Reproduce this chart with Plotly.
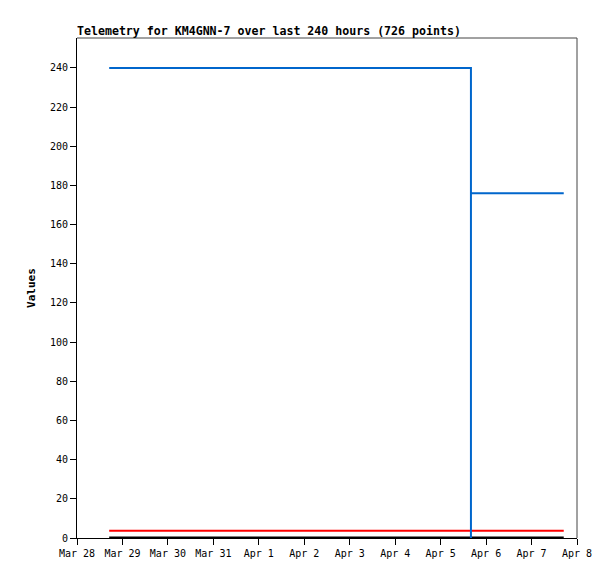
import plotly.graph_objects as go

# Data (key points)
blue_times = ["2025-03-28 17:00", "2025-04-05 16:00", "2025-04-05 16:00", "2025-04-05 16:00", "2025-04-07 17:00"]
blue_values = [240, 240, 0, 176, 176]
red_times = ["2025-03-28 17:00", "2025-04-07 17:00"]
red_values = [3.7, 3.7]
black_times = ["2025-03-28 17:00", "2025-04-07 17:00"]
black_values = [0.2, 0.2]

tick_dates = ["2025-03-28", "2025-03-29", "2025-03-30", "2025-03-31", "2025-04-01", "2025-04-02",
              "2025-04-03", "2025-04-04", "2025-04-05", "2025-04-06", "2025-04-07", "2025-04-08"]
tick_labels = ["Mar 28", "Mar 29", "Mar 30", "Mar 31", "Apr 1", "Apr 2",
               "Apr 3", "Apr 4", "Apr 5", "Apr 6", "Apr 7", "Apr 8"]
y_ticks = [0, 20, 40, 60, 80, 100, 120, 140, 160, 180, 200, 220, 240]

FONT = "DejaVu Sans Mono"
W, H = 599, 563

fig = go.Figure()
fig.add_trace(go.Scatter(x=black_times, y=black_values, mode="lines",
                         line=dict(color="#000000", width=2), showlegend=False))
fig.add_trace(go.Scatter(x=red_times, y=red_values, mode="lines",
                         line=dict(color="#ff0000", width=2), showlegend=False))
fig.add_trace(go.Scatter(x=blue_times, y=blue_values, mode="lines",
                         line=dict(color="#0066cc", width=2), showlegend=False))

fig.update_layout(
    width=W, height=H,
    margin=dict(l=69, r=30, t=30, b=33),
    paper_bgcolor="white", plot_bgcolor="white",
    font=dict(family=FONT, size=10, color="#000000"),
    title=dict(text="<b>Telemetry for KM4GNN-7 over last 240 hours (726 points)</b>",
               x=69/W, xanchor="left", xref="container",
               y=1 - 23/H, yanchor="middle", yref="container",
               font=dict(family=FONT, size=11.6, color="#000000")),
    xaxis=dict(range=["2025-03-28", "2025-04-08"], tickmode="array",
               tickvals=tick_dates, ticktext=tick_labels,
               showgrid=False, zeroline=False, showline=True, linecolor="#000000", linewidth=1,
               ticks="outside", ticklen=6, tickcolor="#000000",
               tickfont=dict(family=FONT, size=10)),
    yaxis=dict(range=[0, 255.3], tickmode="array", tickvals=y_ticks,
               showgrid=False, zeroline=False, showline=True, linecolor="#000000", linewidth=1,
               ticks="outside", ticklen=6, tickcolor="#000000",
               tickfont=dict(family=FONT, size=10),
               title=dict(text="<b>Values</b>", font=dict(family=FONT, size=11), standoff=12)),
    shapes=[
        dict(type="line", xref="paper", yref="paper", x0=0, x1=1, y0=1, y1=1,
             line=dict(color="#444444", width=1)),
        dict(type="line", xref="paper", yref="paper", x0=1, x1=1, y0=0, y1=1,
             line=dict(color="#444444", width=1)),
    ],
)

fig.write_html("out.html")
